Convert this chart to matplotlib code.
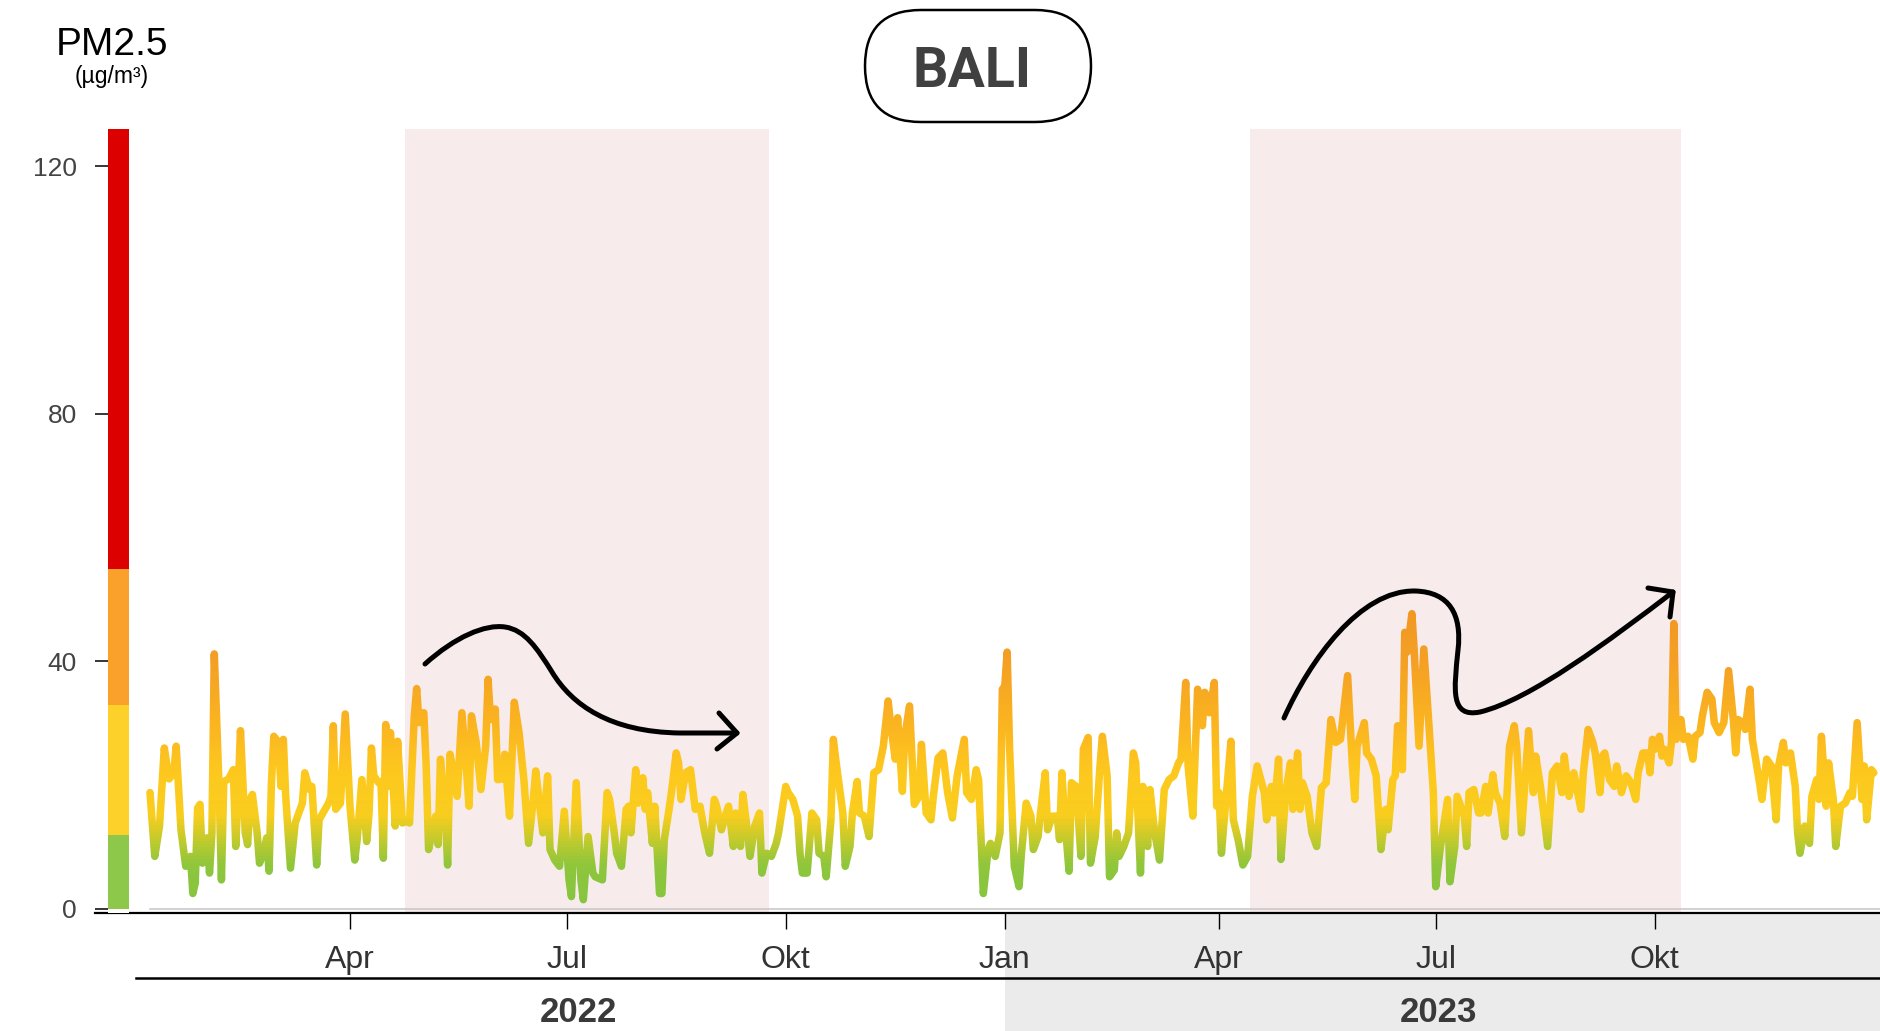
import numpy as np
import pandas as pd
import matplotlib
matplotlib.use("Agg")
import matplotlib.pyplot as plt
import matplotlib.dates as mdates
from matplotlib.colors import LinearSegmentedColormap
from matplotlib.patches import FancyBboxPatch, PathPatch, Rectangle
from matplotlib.path import Path
from matplotlib.transforms import IdentityTransform

plt.rcParams["font.family"] = ["Liberation Sans", "DejaVu Sans"]

# daily PM2.5: days since start, value in ug/m3
start = "2022-01-07"
day = [0, 2, 4, 6, 8, 10, 11, 13, 15, 17, 18, 19, 20, 21, 22, 24, 25, 26, 27, 29,
       30, 31, 33, 35, 36, 37, 38, 40, 41, 42, 43, 45, 46, 48, 49, 50, 51, 52, 54, 55,
       56, 57, 59, 61, 64, 65, 67, 68, 70, 71, 75, 76, 77, 78, 80, 82, 84, 86, 87, 89,
       91, 92, 93, 94, 96, 97, 98, 99, 100, 101, 103, 104, 106, 108, 109, 111, 112, 113, 115, 116,
       117, 119, 120, 121, 122, 124, 125, 126, 128, 129, 131, 133, 134, 135, 137, 139, 141, 142, 143, 145,
       146, 148, 149, 151, 153, 155, 157, 159, 161, 162, 165, 167, 168, 170, 172, 174, 176, 177, 179, 181,
       182, 184, 186, 187, 190, 192, 193, 195, 196, 198, 200, 201, 202, 204, 205, 207, 208, 209, 211, 212,
       214, 215, 216, 218, 219, 221, 222, 223, 225, 227, 229, 231, 233, 235, 237, 238, 240, 242, 243, 245,
       246, 248, 249, 251, 252, 254, 256, 257, 259, 261, 263, 264, 267, 268, 270, 272, 273, 274, 276, 278,
       280, 281, 283, 284, 286, 287, 288, 291, 292, 294,
       295, 297, 298, 300, 302, 304, 306, 308, 310, 311, 313, 314, 316, 317, 319, 321, 323, 324, 326, 328,
       329, 331, 333, 335, 337, 339, 342, 343, 345, 347, 348, 350, 352, 353, 355, 357, 358, 359, 360, 361,
       363, 365, 366, 368, 370, 371, 373, 374, 376, 377, 379, 381, 382, 383, 384, 386, 387, 389, 391, 392,
       394, 395, 397, 399, 400, 402, 403, 405, 406, 407, 409, 411, 413, 414, 416, 417, 419, 420, 422, 424,
       426, 428, 430, 432, 433, 435, 436, 438, 440,
       442, 443, 444, 445, 447, 448, 449, 450, 452, 454, 455, 457, 459, 461, 462, 463, 465, 468, 469, 471,
       472, 474, 475, 477, 479, 480, 482, 483, 484, 486, 488, 490, 492, 494, 496, 498, 500, 503, 505, 506,
       507, 510, 511, 513, 515, 517, 519, 520, 522, 523, 524, 526, 527, 528, 530, 531, 533, 535, 537, 539,
       540, 542, 545, 546, 548, 549, 552, 553, 554, 556, 558, 559, 561, 562, 564, 565, 567, 569, 571, 573,
       574, 576, 579, 581, 582, 584, 587,
       589, 591, 593, 594, 596, 598, 601, 602, 604, 606, 607, 609, 610, 611, 613, 615, 616, 618, 620, 622,
       624, 625, 627, 629, 630, 631, 632, 634, 635, 636, 638, 639, 640, 641, 643, 644, 646, 648, 649, 651,
       652, 654, 656, 657, 659, 661, 663, 665, 666, 667, 669, 670, 672, 673, 676, 677, 679, 681, 683, 684,
       686, 687, 689, 691, 692, 693, 695, 697, 698, 700, 701, 702, 704, 705, 707, 708, 710, 712, 714, 715,
       717, 719, 720, 721, 723, 724]
pm25 = [18.8, 8.5, 13.4, 26, 21, 22, 26.3, 12.8, 6.9, 8.5, 2.5, 4.2, 16.3, 16.9, 7.4, 11.5, 5.8, 12.3, 41.2, 19.8,
        4.7, 20.6, 21, 22.5, 10.1, 18.8, 28.8, 12.3, 10.4, 17.7, 18.5, 12.3, 7.4, 9.6, 11.5, 6.1, 20.4, 27.9, 26.9, 19.8,
        27.4, 18.2, 6.6, 13.9, 17.1, 22, 19.3, 19.8, 7.1, 14.4, 17.1, 18.2, 29.6, 16.1, 17.1, 31.5, 16.6, 7.9, 11.2, 20.9,
        10.9, 15.5, 26, 21.5, 20.4, 20.6, 8.2, 29.8, 19.8, 28.5, 13.4, 27.1, 13.9, 14.2, 13.9, 31.2, 35.6, 30.1, 31.7, 23.1,
        9.6, 13.4, 15, 10.4, 24.2, 15.5, 7.1, 25, 20.9, 18.2, 31.7, 22, 16.6, 31.2, 26.9, 19.3, 26.3, 37.1, 30.6, 32.3,
        20.9, 21, 25, 15, 33.4, 28.5, 21, 10.6, 17.7, 22.3, 12.3, 21.5, 9.6, 7.9, 6.9, 15.8, 4.7, 2, 20.4, 4.7,
        1.5, 11.7, 5.8, 5.2, 4.7, 18.8, 17.7, 12.3, 9, 6.9, 16.1, 16.6, 12.3, 22.5, 17.1, 21.2, 16.1, 18.8, 10.6, 16.6,
        2.5, 2.5, 11.2, 16.1, 18.8, 25.2, 23.6, 17.7, 22, 22.5, 16.1, 16.6, 12.3, 9, 17.7, 16.6, 12.8, 15.5, 16.6, 10.1,
        15.5, 10.1, 18.5, 12.3, 8.5, 13.4, 15.5, 5.8, 9, 8.5, 10.6, 12.3, 19.8, 18.8, 17.7, 15, 9, 5.8, 5.8, 15.5,
        14.4, 9, 8.5, 5.2, 14.4, 27.4, 24.2, 15.5, 6.9, 10.1,
        15.5, 20.6, 15.5, 15, 11.7, 22, 22.5, 26.3, 33.6, 30.1, 24.2, 30.9, 19, 27.9, 32.8, 16.9, 18.2, 26.6, 15.5, 14.4,
        18.2, 24.4, 25.2, 18.8, 14.7, 21.5, 27.4, 18.8, 17.7, 22.5, 20.9, 2.5, 9.6, 10.6, 8.5, 12.3, 35.5, 36, 41.5, 26.3,
        6.9, 3.6, 9, 17.1, 15, 9.6, 11.7, 15.5, 22, 12.8, 15, 15, 11.2, 22, 15.5, 6.1, 20.4, 19.8, 8.5, 25.8,
        27.7, 7.4, 11.7, 23.1, 27.9, 21.5, 5.2, 6.3, 12.3, 8.5, 10.1, 12.3, 25.2, 23.6, 5.8, 19.8, 10.1, 19.3, 12.3, 7.9,
        19.3, 20.9, 21.5, 23.6, 24.2, 36.6, 23.1, 15, 35.5,
        29.6, 35, 33.9, 31.7, 36.6, 16.6, 18.8, 9, 18.2, 27.1, 14.4, 11.2, 7.1, 8.5, 13.4, 18.2, 23.1, 18.8, 14.4, 19.8,
        15.5, 24.2, 8, 18.8, 23.6, 16.1, 25.2, 16.1, 20.4, 18.2, 12.3, 10.1, 19.6, 20.4, 30.6, 26.9, 27.4, 37.7, 23.1, 17.7,
        26.3, 30.1, 25.2, 24.2, 21.5, 9.6, 16.1, 12.8, 20.9, 21.5, 29.6, 22.5, 44.7, 41.5, 47.7, 41.5, 26.3, 42, 30.6, 18.8,
        3.6, 10.1, 17.7, 4.4, 10.1, 18.2, 15, 10.1, 18.8, 19.3, 15.5, 15.5, 19.8, 15.5, 21.7, 18.8, 17.1, 11.7, 26.3, 29.6,
        26.3, 12.3, 28.8, 18.8, 24.7, 19.8, 10.1,
        22, 23.1, 18.8, 24.7, 18.2, 22, 16.1, 22, 29, 26.9, 25.2, 18.8, 24.7, 25.2, 20.9, 19.8, 23.1, 18.8, 21.5, 20.4,
        17.7, 22, 25.2, 25.2, 22, 27.4, 25.8, 27.9, 24.7, 25.8, 23.6, 26.9, 46.1, 27.4, 30.6, 27.4, 27.9, 24.2, 27.9, 28.5,
        31.2, 35, 33.9, 30.1, 28.5, 30.1, 38.5, 30.6, 25.2, 30.6, 30.1, 29, 35.5, 27.4, 20.4, 17.7, 24.2, 23.1, 14.4, 23.1,
        26.9, 23.6, 25.2, 19.8, 12.3, 9, 13.4, 10.6, 18.2, 20.9, 17.7, 27.9, 16.6, 23.6, 17.7, 10.1, 16.6, 17.1, 18.8, 18.2,
        30.1, 17.7, 23.1, 14.4, 22.5, 22]

# dry season shading
dry_start = ["2022-04-24", "2023-04-14"]
dry_end = ["2022-09-24", "2023-10-12"]

# AQI colour scale on the left
aqi_edges = [0, 12, 33, 55, 126]
aqi_colors = ["#8dc84a", "#fdd02a", "#f9a12b", "#dc0000"]

tick_dates = ["2022-04-01", "2022-07-01", "2022-10-01", "2023-01-01",
              "2023-04-01", "2023-07-01", "2023-10-01"]
tick_labels = ["Apr", "Jul", "Okt", "Jan", "Apr", "Jul", "Okt"]
years = ["2022", "2023"]
year_label_dates = ["2022-07-06", "2023-07-02"]

W, H = 1880, 1031
fig = plt.figure(figsize=(W / 100, H / 100), dpi=100)


def box(x0, y0, x1, y1):
    # pixel box (top-left origin) -> figure fraction rect
    return [x0 / W, 1 - y1 / H, (x1 - x0) / W, (y1 - y0) / H]


t0 = pd.Timestamp(start)
x_left = t0 - pd.Timedelta(days=23.1)
x_right = t0 + pd.Timedelta(days=726.6)
ymin, ymax = -0.65, 126

axb = fig.add_axes(box(95, 913, 1880, 1031), zorder=0)
ax = fig.add_axes(box(95, 129, 1880, 913), zorder=1)
axc = fig.add_axes(box(108, 129, 129, 913), zorder=2)

# main chart
dates = t0 + pd.to_timedelta(day, unit="D")
for s, e in zip(dry_start, dry_end):
    ax.axvspan(pd.Timestamp(s), pd.Timestamp(e), color="#f8ebeb", lw=0, zorder=0)
ax.plot([dates[0], x_right], [0, 0], color="#c9c9c9", lw=1.2, zorder=1)

# vertical colour gradient: the same line drawn in thin horizontal strips
cmap = LinearSegmentedColormap.from_list("pm", [
    (0.0, "#86c440"), (7 / 50, "#8ec63c"), (11 / 50, "#bfca2d"), (15 / 50, "#f9cd1e"),
    (22 / 50, "#fdc81e"), (30 / 50, "#fab420"), (40 / 50, "#f4a024"), (1.0, "#f09623")])
levels = np.arange(-1, 50.5, 0.5)
xr = mdates.date2num(x_left)
wr = mdates.date2num(x_right) - xr
for i in range(len(levels) - 1):
    lo, hi = levels[i], levels[i + 1]
    if i == len(levels) - 2:
        hi = 200
    if i == 0:
        lo = -20
    ln, = ax.plot(dates, pm25, color=cmap(min(max((levels[i] + 0.25) / 50, 0), 1)),
                  lw=5.4, solid_joinstyle="round", solid_capstyle="round", zorder=2)
    ln.set_clip_path(Rectangle((xr, lo), wr, hi - lo, transform=ax.transData))

ax.set_xlim(x_left, x_right)
ax.set_ylim(ymin, ymax)
for side in ["top", "right", "left"]:
    ax.spines[side].set_visible(False)
ax.spines["bottom"].set_linewidth(1.6)
ax.spines["bottom"].set_color("black")
ax.set_yticks([])
ax.set_xticks(pd.to_datetime(tick_dates))
ax.set_xticklabels(tick_labels)
ax.tick_params(axis="x", length=11.5, width=1, color="black", pad=11.5,
               labelsize=23, labelcolor="#333333")

# colour scale with y ticks
axc.bar(0, np.diff(aqi_edges), bottom=aqi_edges[:-1], width=1, color=aqi_colors, lw=0)
axc.set_xlim(-0.5, 0.5)
axc.set_ylim(ymin, ymax)
for side in axc.spines:
    axc.spines[side].set_visible(False)
axc.set_xticks([])
axc.set_yticks([0, 40, 80, 120])
axc.tick_params(axis="y", length=9.4, width=1.1, color="black", pad=13,
                labelsize=19, labelcolor="#444444")

# year band below the axis
axb.set_xlim(x_left, x_right)
axb.set_ylim(0, 1)
axb.axis("off")
axb.axvspan(pd.Timestamp("2023-01-01"), x_right, color="#ebebeb", lw=0)
axb.plot([pd.Timestamp("2022-01-01"), x_right], [0.45, 0.45], color="black", lw=1.8)
for y, d in zip(years, year_label_dates):
    axb.text(pd.Timestamp(d), 0.076, y, ha="center", va="baseline",
             fontsize=25, fontweight="bold", color="#3a3a3a")

# titles
fig.text(112 / W, 1 - 55 / H, "PM2.5", ha="center", va="baseline", fontsize=28, color="black")
fig.text(112 / W, 1 - 83 / H, "(µg/m³)", ha="center", va="baseline", fontsize=16.5, color="black")

pill = FancyBboxPatch((865, H - 122), 226, 112, boxstyle="round,pad=0,rounding_size=56",
                      transform=IdentityTransform(), fc="white", ec="black", lw=1.8, zorder=5)
fig.add_artist(pill)
fig.text(972 / W, 1 - 87 / H, "BALI", ha="center", va="baseline", fontsize=40, zorder=6,
         fontweight="bold", color="#404040", family=["Roboto", "DejaVu Sans"])


# hand drawn arrows
def draw(points, codes):
    verts = [(x / W, 1 - y / H) for x, y in points]
    fig.add_artist(PathPatch(Path(verts, codes), fill=False, lw=3.6, ec="black", zorder=10,
                             capstyle="round", joinstyle="round", transform=fig.transFigure))


M, C, L = Path.MOVETO, Path.CURVE4, Path.LINETO
draw([(425, 664), (455, 637), (485, 624), (505, 627), (525, 630), (537, 648), (552, 672),
      (572, 705), (610, 732), (680, 733), (737, 733)],
     [M, C, C, C, C, C, C, C, C, C, L])
draw([(719, 713), (737, 733), (717, 749)], [M, L, L])

draw([(1284, 718), (1310, 660), (1360, 590), (1415, 591), (1450, 592), (1462, 615), (1458, 650),
      (1454, 690), (1450, 718), (1480, 712), (1530, 700), (1610, 640), (1673, 592)],
     [M, C, C, C, C, C, C, C, C, C, C, C, C])
draw([(1648, 588), (1673, 592), (1670, 617)], [M, L, L])

fig.savefig("out.png", dpi=100)
